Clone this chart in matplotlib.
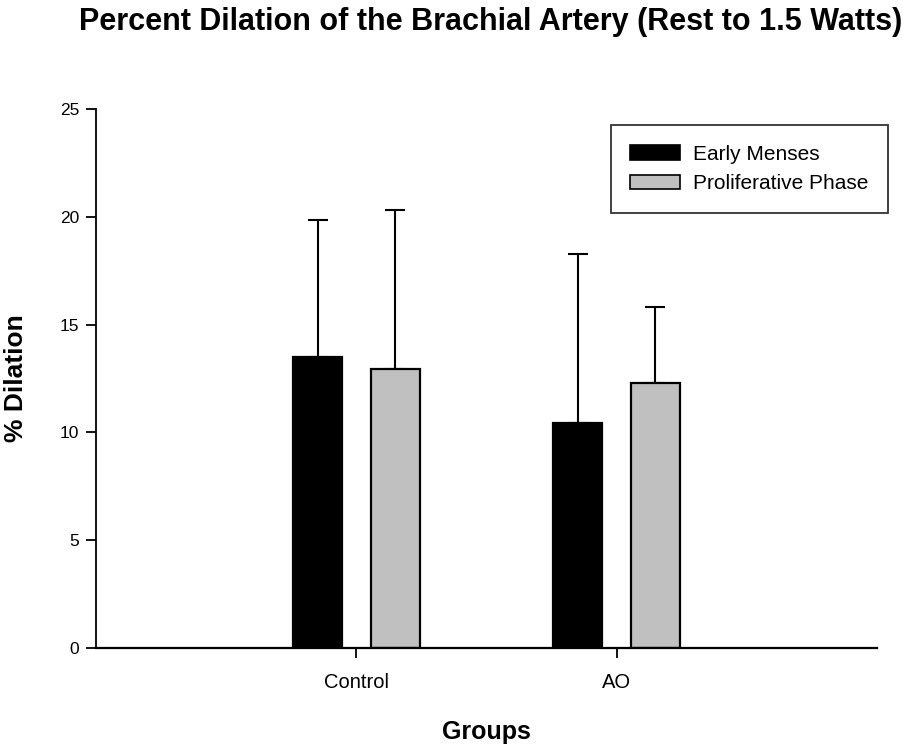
import numpy as np
import matplotlib.pyplot as plt
from matplotlib.patches import Patch

plt.rcParams['font.family'] = ['Liberation Sans', 'DejaVu Sans']

groups = ['Control', 'AO']
series = ['Early Menses', 'Proliferative Phase']
early = [13.5, 10.42]
early_err = [6.35, 7.84]
prolif = [12.94, 12.31]
prolif_err = [7.36, 3.49]
colors = ['black', '#c0c0c0']

fig = plt.figure(figsize=(9.11, 7.45), dpi=100)
ax = fig.add_axes([0.1054, 0.1302, 0.8573, 0.7235])

x = np.arange(1, len(groups) + 1)
w = 0.188
off = 0.149
for vals, errs, c, dx in [(early, early_err, colors[0], -off), (prolif, prolif_err, colors[1], off)]:
    ax.bar(x + dx, vals, w, color=c, edgecolor='black', linewidth=1.6, zorder=2)
    ax.errorbar(x + dx, vals, yerr=[np.zeros(len(vals)), errs], fmt='none',
                ecolor='black', elinewidth=1.5, capsize=7.5, capthick=1.5, zorder=1)

ax.set_xlim(0, 3)
ax.set_ylim(0, 25)
ax.set_xticks(x)
ax.set_xticklabels(groups, fontsize=14.5)
ax.set_yticks([0, 5, 10, 15, 20, 25])
ax.spines['top'].set_visible(False)
ax.spines['right'].set_visible(False)
ax.spines['left'].set_linewidth(1.3)
ax.spines['bottom'].set_linewidth(1.6)
ax.tick_params(axis='both', width=1.3, length=7, pad=5)
ax.tick_params(axis='y', labelsize=12.5)
ax.tick_params(axis='x', pad=11)

ax.set_ylabel('% Dilation', fontsize=19, fontweight='bold', labelpad=23)
ax.set_xlabel('Groups', fontsize=18, fontweight='bold', labelpad=20)
fig.text(0.539, 0.97, 'Percent Dilation of the Brachial Artery (Rest to 1.5 Watts)',
         ha='center', va='center', fontsize=22, fontweight='bold')

handles = [Patch(facecolor=c, edgecolor='black', linewidth=1.2) for c in colors]
leg = fig.legend(handles, series, loc='upper right', bbox_to_anchor=(0.9748, 0.8322),
                 fontsize=15, frameon=True, fancybox=False, edgecolor='black',
                 handlelength=2.4, handleheight=0.72, handletextpad=0.6,
                 borderpad=0.95, labelspacing=0.5, borderaxespad=0)
leg.get_frame().set_linewidth(1.3)

fig.savefig('out.png', dpi=100)
